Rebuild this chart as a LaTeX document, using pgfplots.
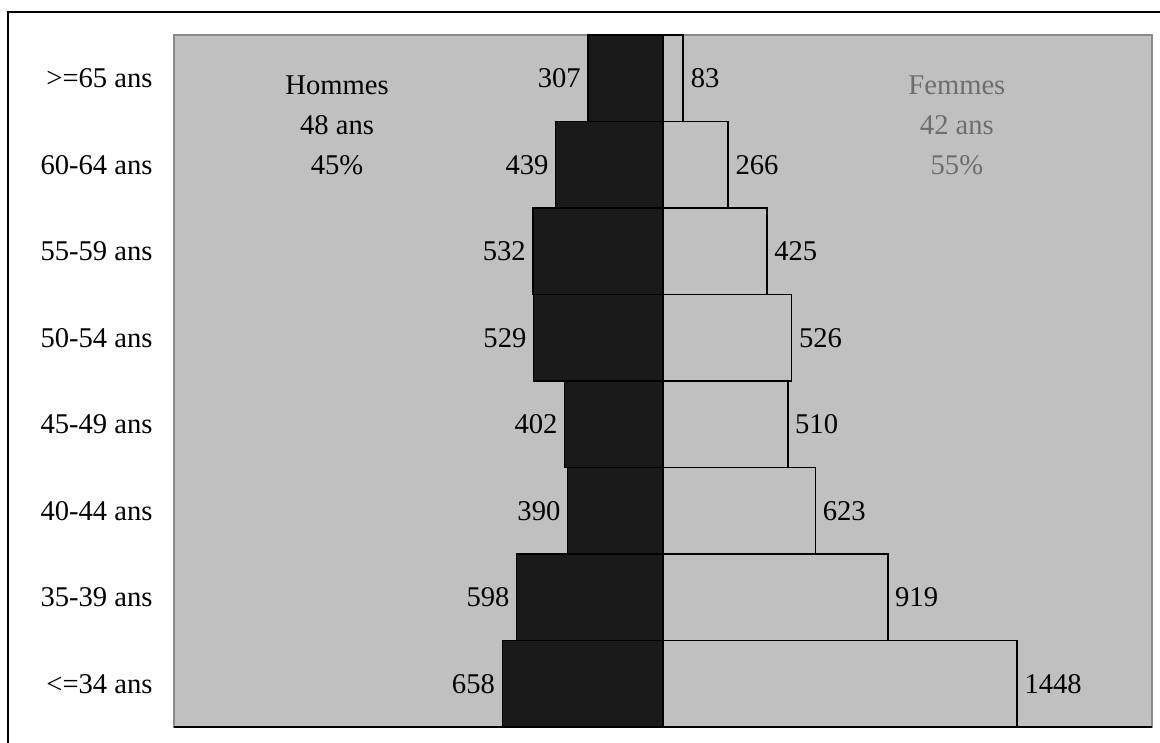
\documentclass[border=0pt]{standalone}
\usepackage{pgfplots}
\pgfplotsset{compat=1.18}
\usepackage{pgfplotstable}
\usepackage{fontspec}
\setmainfont{Liberation Serif}
\definecolor{bg}{HTML}{C0C0C0}
\definecolor{men}{HTML}{1A1A1A}
\definecolor{femtext}{HTML}{6E6E6E}
\definecolor{framegray}{HTML}{8A8A8A}

\pgfplotstableread{
y m f
0.5 658 1448
1.5 598 919
2.5 390 623
3.5 402 510
4.5 529 526
5.5 532 425
6.5 439 266
7.5 307 83
}\pyr

\begin{document}
\begin{tikzpicture}[x=1pt,y=1pt]
\useasboundingbox (0,0) rectangle (580,-371.5);
\clip (0,0) rectangle (580,-371.5);
\draw[line width=1pt] (4,-6) rectangle (620,-420);
\begin{axis}[
  at={(87pt,-363.5pt)}, anchor=south west,
  scale only axis, width=489pt, height=346pt,
  xmin=-2000, xmax=2000, ymin=0, ymax=8,
  axis background/.style={fill=bg},
  axis line style={draw=framegray, line width=0.8pt},
  xtick=\empty,
  ytick={0.5,1.5,...,7.5},
  yticklabels={{<=34 ans},{35-39 ans},{40-44 ans},{45-49 ans},{50-54 ans},{55-59 ans},{60-64 ans},{>=65 ans}},
  major tick length=0pt,
  y tick label style={anchor=east, xshift=-7.2pt},
  font=\fontsize{14.3}{17}\selectfont,
  /pgf/number format/1000 sep={},
  /pgf/number format/assume math mode=true,
  clip=false,
]
\addplot[xbar, bar width=1, bar shift=0pt, fill=men, draw=black, line width=0.6pt,
  point meta=explicit,
  nodes near coords={\pgfmathprintnumber{\pgfplotspointmeta}},
  nodes near coords style={anchor=east, text=black, font=\fontsize{14.3}{17}\selectfont}]
  table[x expr=-\thisrow{m}, y=y, meta=m] {\pyr};
\addplot[xbar, bar width=1, bar shift=0pt, fill=bg, draw=black, line width=0.8pt,
  point meta=explicit,
  nodes near coords={\pgfmathprintnumber{\pgfplotspointmeta}},
  nodes near coords style={anchor=west, text=black, font=\fontsize{14.3}{17}\selectfont}]
  table[x=f, y=y, meta=f] {\pyr};
\draw[black, line width=1pt] (rel axis cs:0,0) -- (rel axis cs:1,0);
\node[font=\fontsize{14.3}{17}\selectfont] at (axis cs:-1333,7.42) {Hommes};
\node[font=\fontsize{14.3}{17}\selectfont] at (axis cs:-1333,6.96) {48 ans};
\node[font=\fontsize{14.3}{17}\selectfont] at (axis cs:-1333,6.50) {45\%};
\node[font=\fontsize{14.3}{17}\selectfont, text=femtext] at (axis cs:1202,7.42) {Femmes};
\node[font=\fontsize{14.3}{17}\selectfont, text=femtext] at (axis cs:1202,6.96) {42 ans};
\node[font=\fontsize{14.3}{17}\selectfont, text=femtext] at (axis cs:1202,6.50) {55\%};
\end{axis}
\end{tikzpicture}
\end{document}
